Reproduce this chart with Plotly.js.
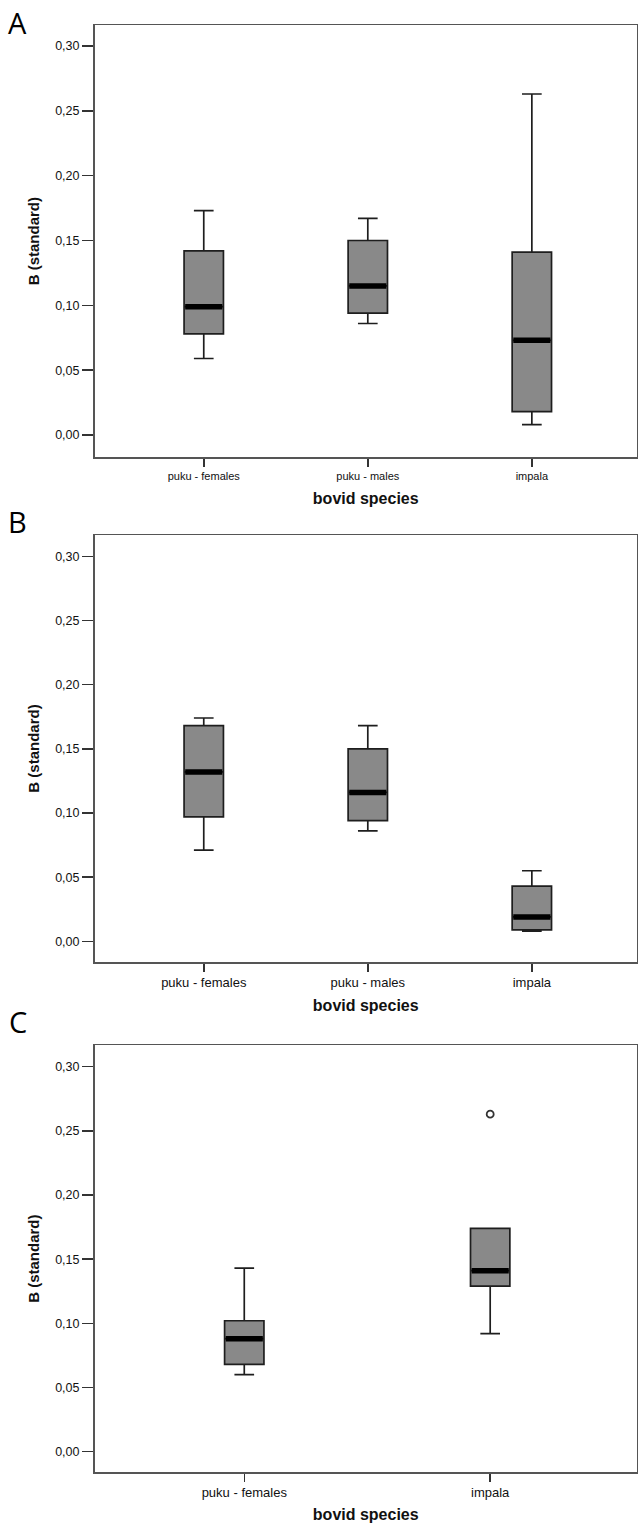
<!DOCTYPE html>
<html>
<head>
<meta charset="utf-8">
<script src="https://cdn.plot.ly/plotly-3.0.1.min.js"></script>
<style>html,body{margin:0;padding:0;background:#fff;}#chart{width:638px;height:1525px;}</style>
</head>
<body>
<div id="chart"></div>
<script>
// ---- data ----
const catsAB = ['puku - females', 'puku - males', 'impala'];
const catsC = ['puku - females', 'impala'];

const A_lower  = [0.059, 0.086, 0.008];
const A_q1     = [0.078, 0.094, 0.018];
const A_median = [0.099, 0.115, 0.073];
const A_q3     = [0.142, 0.150, 0.141];
const A_upper  = [0.173, 0.167, 0.263];

const B_lower  = [0.071, 0.086, 0.008];
const B_q1     = [0.097, 0.094, 0.009];
const B_median = [0.132, 0.116, 0.019];
const B_q3     = [0.168, 0.150, 0.043];
const B_upper  = [0.174, 0.168, 0.055];

const C_lower  = [0.060, 0.092];
const C_q1     = [0.068, 0.129];
const C_median = [0.088, 0.141];
const C_q3     = [0.102, 0.174];
const C_upper  = [0.143, 0.174];
const C_outlierCats = ['impala'];
const C_outliers = [0.263];

const yTickVals = [0, 0.05, 0.10, 0.15, 0.20, 0.25, 0.30];
const xTitle = 'bovid species';
const yTitle = 'B (standard)';
const panelLabels = ['A', 'B', 'C'];

// ---- styling ----
const FONT = 'Liberation Sans, Arial, sans-serif';
const boxFill = '#898989';
const boxLine = '#1e1e1e';

function boxTrace(x, lo, q1, med, q3, hi, xa, ya, w) {
  return {
    type: 'box', x: x, q1: q1, median: med, q3: q3,
    lowerfence: lo, upperfence: hi,
    xaxis: xa, yaxis: ya, width: w,
    fillcolor: boxFill, line: {color: boxLine, width: 1.7},
    whiskerwidth: 0.5, boxpoints: false, hoverinfo: 'skip', showlegend: false
  };
}
function medTrace(x, med, xa, ya) {
  return {
    type: 'scatter', mode: 'markers', x: x, y: med, xaxis: xa, yaxis: ya,
    marker: {symbol: 'line-ew', size: 26.5, color: '#000', line: {color: '#000', width: 5.5}},
    hoverinfo: 'skip', showlegend: false
  };
}

const data = [
  boxTrace(catsAB, A_lower, A_q1, A_median, A_q3, A_upper, 'x', 'y', 0.24),
  medTrace(catsAB, A_median, 'x', 'y'),
  boxTrace(catsAB, B_lower, B_q1, B_median, B_q3, B_upper, 'x2', 'y2', 0.24),
  medTrace(catsAB, B_median, 'x2', 'y2'),
  boxTrace(catsC, C_lower, C_q1, C_median, C_q3, C_upper, 'x3', 'y3', 0.16),
  medTrace(catsC, C_median, 'x3', 'y3'),
  {type: 'scatter', mode: 'markers', x: C_outlierCats, y: C_outliers, xaxis: 'x3', yaxis: 'y3',
   marker: {symbol: 'circle-open', size: 7, color: '#333', line: {color: '#333', width: 1.8}},
   hoverinfo: 'skip', showlegend: false}
];

const xDom = [94.5 / 638, 637 / 638];
function xAxis(anchor, range, fontSize, standoff) {
  return {
    domain: xDom, anchor: anchor, type: 'category', range: range,
    showline: true, mirror: true, linecolor: '#555', linewidth: 1.5,
    ticks: 'outside', ticklen: 8, tickwidth: 1.5, tickcolor: '#333',
    showgrid: false, zeroline: false, fixedrange: true,
    tickfont: {family: FONT, size: fontSize, color: '#111'},
    title: {text: xTitle, standoff: standoff, font: {family: FONT, size: 16, color: '#111', weight: 'bold'}}
  };
}
function yAxis(anchor, dom, range) {
  return {
    domain: dom, anchor: anchor, range: range,
    tickvals: yTickVals, tickformat: '.2f',
    showline: true, mirror: true, linecolor: '#555', linewidth: 1.5,
    ticks: 'outside', ticklen: 11, tickwidth: 1.5, tickcolor: '#333',
    showgrid: false, zeroline: false, fixedrange: true,
    tickfont: {family: FONT, size: 12.5, color: '#111'},
    title: {text: yTitle, standoff: 12, font: {family: FONT, size: 15, color: '#111', weight: 'bold'}}
  };
}
const H = 1525;
const layout = {
  width: 638, height: H,
  margin: {l: 0, r: 0, t: 0, b: 0},
  paper_bgcolor: '#fff', plot_bgcolor: '#fff',
  separators: ',.',
  showlegend: false, hovermode: false,
  xaxis: xAxis('y', [-0.666, 2.641], 11, 12),
  yaxis: yAxis('x', [1 - 457.3 / H, 1 - 25 / H], [-0.0172, 0.3162]),
  xaxis2: xAxis('y2', [-0.666, 2.641], 13, 10),
  yaxis2: yAxis('x2', [1 - 962 / H, 1 - 535 / H], [-0.0161, 0.3166]),
  xaxis3: xAxis('y3', [-0.609, 1.597], 13, 9),
  yaxis3: yAxis('x3', [1 - 1472.3 / H, 1 - 1045 / H], [-0.0161, 0.3169]),
  annotations: [
    [panelLabels[0], 22.4], [panelLabels[1], 521], [panelLabels[2], 1021]
  ].map(function (p) {
    return {text: p[0], xref: 'paper', yref: 'paper', x: 17.5 / 638, y: 1 - p[1] / H,
            xanchor: 'center', yanchor: 'middle', showarrow: false,
            font: {family: 'Open Sans, sans-serif', size: 29, color: '#000'}};
  })
};

Plotly.newPlot('chart', data, layout, {displayModeBar: false, staticPlot: true});
</script>
</body>
</html>
